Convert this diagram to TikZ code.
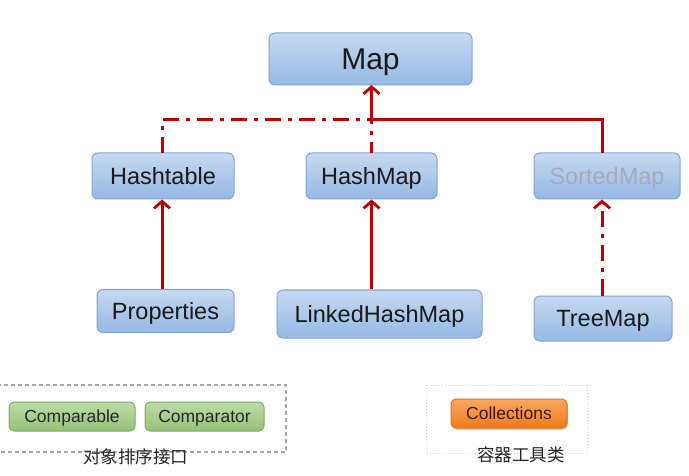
\documentclass[tikz,border=0pt]{standalone}
\usepackage{fontspec}
\setmainfont{Liberation Sans}
\newfontfamily\cjk{Noto Sans CJK SC}
\usetikzlibrary{arrows.meta,shadows}
\definecolor{bluetop}{HTML}{C6D9F1}
\definecolor{bluebot}{HTML}{95B8E3}
\definecolor{blueline}{HTML}{7FA6D6}
\definecolor{greentop}{HTML}{BCDCA8}
\definecolor{greenbot}{HTML}{95C178}
\definecolor{greenline}{HTML}{7DAA62}
\definecolor{orangetop}{HTML}{FAA860}
\definecolor{orangebot}{HTML}{EE7A1A}
\definecolor{orangeline}{HTML}{E0701A}
\definecolor{linkred}{HTML}{C00000}
\definecolor{framegreen}{HTML}{C8D7B4}
\definecolor{graytext}{HTML}{A5ACB8}
\definecolor{browntext}{HTML}{3C1900}
\tikzset{
  x=1pt, y=-1pt,
  bluebox/.style={draw=blueline, line width=1pt, rounded corners=6pt, top color=bluetop, bottom color=bluebot, inner sep=0pt, text=black!90, font=\fontsize{23.5}{28}\selectfont, text height=16.8pt, text depth=0pt},
  greenbox/.style={draw=greenline, line width=1pt, rounded corners=5pt, top color=greentop, bottom color=greenbot, inner sep=0pt, text=black!85, font=\fontsize{17.5}{21}\selectfont, text height=12.5pt, text depth=0pt},
  orangebox/.style={draw=orangeline, line width=1pt, rounded corners=5pt, top color=orangetop, bottom color=orangebot, inner sep=0pt, text=browntext, font=\fontsize{17.5}{21}\selectfont, text height=12.5pt, text depth=0pt, drop shadow={shadow xshift=1pt, shadow yshift=-2pt, opacity=0.35}},
  solidlink/.style={draw=linkred, line width=3pt, -{Straight Barb[length=7pt,width=16pt,line width=2.8pt]}},
  dashlink/.style={draw=linkred, line width=3pt, dash pattern=on 16pt off 7pt on 4pt off 7pt},
  caption/.style={font=\cjk\fontsize{17.5}{21}\selectfont, text=black!85, inner sep=1pt}
}
\begin{document}
\begin{tikzpicture}
\useasboundingbox (0,0) rectangle (689,476);
\fill[white] (0,0) rectangle (689,476);

% group frames
\draw[black!35, line width=1.2pt, dash pattern=on 4pt off 3pt] (-2,385) rectangle (286,452);
\draw[framegreen, line width=1pt, dotted] (426,385) rectangle (587,453);

% main boxes
\node[bluebox, minimum width=203pt, minimum height=52pt, font=\fontsize{30}{36}\selectfont, text height=21.5pt] (map) at (370.5,59) {Map};
\node[bluebox, minimum width=142pt, minimum height=46pt] (ht) at (163,176) {Hashtable};
\node[bluebox, minimum width=131pt, minimum height=46pt] (hm) at (371.5,176) {HashMap};
\node[bluebox, minimum width=146pt, minimum height=46pt, text=graytext] (sm) at (607,176) {SortedMap};
\node[bluebox, minimum width=137pt, minimum height=43pt] (pr) at (165.5,311) {Properties};
\node[bluebox, minimum width=205pt, minimum height=48pt] (lhm) at (379.5,314) {LinkedHashMap};
\node[bluebox, minimum width=138pt, minimum height=45pt] (tm) at (603,318.5) {TreeMap};

% junction coordinates
\coordinate (mapin) at (371.5,85);
\coordinate (jl) at (162,120);
\coordinate (jc) at (371.5,120);
\coordinate (jr) at (602,120);
\coordinate (htt) at (162,153);
\coordinate (hmt) at (371.5,153);
\coordinate (smt) at (602,153);

% connectors
\draw[dashlink] (htt) -- (jl) -- (jc);
\draw[dashlink, dash phase=5pt] (hmt) -- (jc);
\draw[solidlink] (smt) -- (jr) -- (jc) -- (mapin);
\draw[solidlink] (pr.north -| htt) -- (ht.south -| htt);
\draw[solidlink] (lhm.north -| hmt) -- (hm.south -| hmt);
\draw[dashlink, -{Straight Barb[length=7pt,width=16pt,line width=2.8pt]}] (tm.north -| smt) -- (sm.south -| smt);

% bottom groups
\node[greenbox, minimum width=126pt, minimum height=29pt] (cmpb) at (72,416.5) {Comparable};
\node[greenbox, minimum width=119pt, minimum height=29pt] (cmpt) at (204.5,416.5) {Comparator};
\node[caption] (cap1) at (135.5,457) {对象排序接口};
\node[orangebox, minimum width=116pt, minimum height=29pt] (coll) at (509,413.5) {Collections};
\node[caption] (cap2) at (521,455) {容器工具类};
\end{tikzpicture}
\end{document}
